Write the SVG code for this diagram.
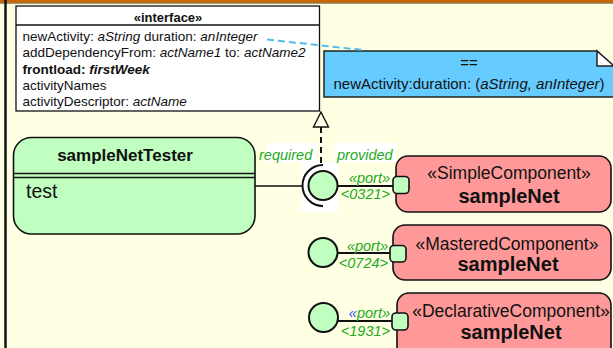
<svg xmlns="http://www.w3.org/2000/svg" width="613" height="348" viewBox="0 0 613 348">
  <style>
    .txt { font-family: "Liberation Sans", Arial, sans-serif; fill: #111; }
    .it { font-style: italic; }
    .b { font-weight: bold; }
    .lbl { font-family: "Liberation Sans", Arial, sans-serif; font-style: italic; font-size: 14.5px; fill: #22AA22; }
    .edge { stroke: #111; fill: none; }
    .comp { fill: #FF9999; stroke: #111; stroke-width: 1.6; }
    .port { fill: #C0FFC0; stroke: #111; stroke-width: 1.6; }
    .ball { fill: #C0FFC0; stroke: #111; stroke-width: 2; }
  </style>

  <!-- canvas frame -->
  <rect x="0" y="0" width="613" height="348" fill="#FFFFE3"/>
  <rect x="0" y="0" width="613" height="2.5" fill="#CC6600"/>
  <line x1="0" y1="3" x2="613" y2="3" stroke="#5A3000" stroke-width="1"/>
  <line x1="5.5" y1="0" x2="5.5" y2="348" stroke="#111" stroke-width="2.5"/>

  <!-- interface specification -->
  <g id="interface">
    <rect x="16" y="6" width="303.5" height="105" fill="#FFFFFF" stroke="#111" stroke-width="1.3"/>
    <line x1="16" y1="25" x2="319.5" y2="25" stroke="#111" stroke-width="1.3"/>
    <text class="txt b" x="168" y="21.5" font-size="13" text-anchor="middle">«interface»</text>
    <text class="txt" x="22.5" y="40.5" font-size="13.5">newActivity: <tspan class="it">aString</tspan> duration: <tspan class="it">anInteger</tspan></text>
    <text class="txt" x="22.5" y="57" font-size="13.5">addDependencyFrom: <tspan class="it">actName1</tspan> to: <tspan class="it">actName2</tspan></text>
    <text class="txt b" x="22.5" y="73.5" font-size="13.5">frontload: <tspan class="it">firstWeek</tspan></text>
    <text class="txt" x="22.5" y="90" font-size="13.5">activityNames</text>
    <text class="txt" x="22.5" y="106" font-size="13.5">activityDescriptor: <tspan class="it">actName</tspan></text>
  </g>

  <!-- constraint note -->
  <g id="note">
    <path d="M324,51 H597 L614,67 V97 H324 Z" fill="#66CCFF" stroke="#222" stroke-width="1.5"/>
    <path d="M597,51 V66 H614 Z" fill="#FFFFFF" stroke="#222" stroke-width="1.5"/>
    <text class="txt" x="469" y="67.5" font-size="15" text-anchor="middle">==</text>
    <text class="txt" x="469" y="89" font-size="15" text-anchor="middle">newActivity:duration: (<tspan class="it">aString, anInteger</tspan>)</text>
  </g>

  <!-- tester client -->
  <g id="sampleNetTester">
    <rect x="13.5" y="137.5" width="241.5" height="96.5" rx="18" fill="#C0FFC0" stroke="#111" stroke-width="1.6"/>
    <line x1="13.5" y1="173.5" x2="255" y2="173.5" stroke="#111" stroke-width="1.4"/>
    <line x1="13.5" y1="177.5" x2="255" y2="177.5" stroke="#111" stroke-width="1.4"/>
    <text class="txt b" x="125" y="161" font-size="17" text-anchor="middle">sampleNetTester</text>
    <text class="txt" x="26" y="198" font-size="19.5">test</text>
  </g>

  <!-- label backgrounds -->
  <rect x="266" y="143" width="51" height="19" fill="#FFFFFF"/>
  <rect x="335" y="143" width="61" height="19" fill="#FFFFFF"/>
  <rect x="301" y="162" width="37" height="50" fill="#FFFFFF"/>

  <!-- connectors -->
  <g id="connectors">
    <line x1="267" y1="39.5" x2="363" y2="50" stroke="#55BBEE" stroke-width="2" stroke-dasharray="7,4"/>
    <line x1="321" y1="127" x2="321" y2="164" class="edge" stroke-width="2" stroke-dasharray="6,4"/>
    <path d="M321,112 L313.5,127 H328.5 Z" fill="#FFFFE3" stroke="#111" stroke-width="1.4"/>
    <line x1="255" y1="186" x2="302.5" y2="186" class="edge" stroke-width="1.6"/>
    <line x1="337.5" y1="186" x2="393" y2="186" class="edge" stroke-width="2"/>
    <line x1="337.5" y1="253" x2="390" y2="253" class="edge" stroke-width="2"/>
    <line x1="338" y1="321" x2="392" y2="321" class="edge" stroke-width="2"/>
  </g>

  <!-- required / provided interface joint -->
  <g id="interfaceJoint">
    <path d="M323,165 A20.5,20.5 0 0 0 323,206" class="edge" stroke-width="2"/>
    <circle cx="323" cy="185.5" r="14.5" class="ball"/>
    <text class="lbl" x="259" y="160">required</text>
    <text class="lbl" x="337" y="160">provided</text>
  </g>

  <!-- components -->
  <g id="simpleComponent">
    <rect x="396" y="156" width="215" height="56" rx="12" class="comp"/>
    <text class="txt" x="509" y="179" font-size="17.5" text-anchor="middle">«SimpleComponent»</text>
    <text class="txt b" x="509" y="203" font-size="20" text-anchor="middle">sampleNet</text>
    <rect x="393" y="176.5" width="16" height="17" rx="4" class="port"/>
    <text class="lbl" x="390" y="183" text-anchor="end">«port»</text>
    <text class="lbl" x="390" y="198.5" text-anchor="end">&lt;0321&gt;</text>
  </g>

  <g id="masteredComponent">
    <circle cx="323" cy="252.5" r="14.5" class="ball"/>
    <rect x="393" y="225" width="218" height="55" rx="12" class="comp"/>
    <text class="txt" x="507" y="250" font-size="17.5" text-anchor="middle">«MasteredComponent»</text>
    <text class="txt b" x="508" y="271" font-size="20" text-anchor="middle">sampleNet</text>
    <rect x="390" y="245.5" width="16" height="16.5" rx="4" class="port"/>
    <text class="lbl" x="388" y="251" text-anchor="end">«port»</text>
    <text class="lbl" x="388" y="268" text-anchor="end">&lt;0724&gt;</text>
  </g>

  <g id="declarativeComponent">
    <circle cx="323.5" cy="317.5" r="14.5" class="ball"/>
    <rect x="397" y="293" width="214" height="70" rx="12" class="comp"/>
    <text class="txt" x="511" y="317" font-size="17.5" text-anchor="middle">«DeclarativeComponent»</text>
    <text class="txt b" x="511" y="338.5" font-size="20" text-anchor="middle">sampleNet</text>
    <rect x="392" y="313" width="16" height="17" rx="4" class="port"/>
    <text class="lbl" x="390" y="318" text-anchor="end"><tspan fill="#3355FF">«</tspan>port»</text>
    <text class="lbl" x="390" y="336" text-anchor="end">&lt;1931&gt;</text>
  </g>
</svg>
